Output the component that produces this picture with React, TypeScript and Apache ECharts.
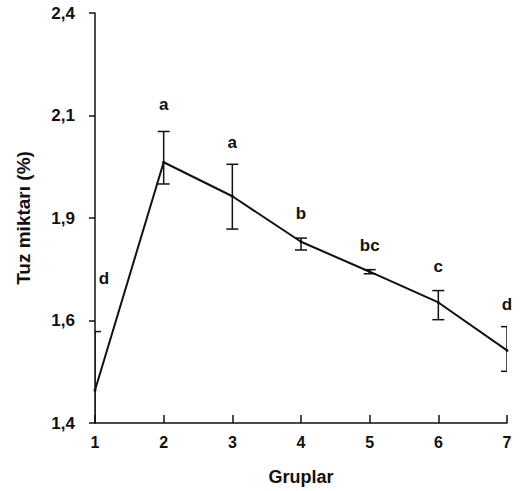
import React, { useEffect, useRef } from "react";
import * as echarts from "echarts";

const groups = [1, 2, 3, 4, 5, 6, 7];
const means = [1.48, 2.036, 1.953, 1.842, 1.769, 1.694, 1.577];
const upper = [1.623, 2.111, 2.031, 1.851, 1.774, 1.723, 1.635];
const lower = [1.337, 1.983, 1.873, 1.822, 1.764, 1.652, 1.526];
const letters = ["d", "a", "a", "b", "bc", "c", "d"];
const letterY = [1.752, 2.177, 2.084, 1.91, 1.832, 1.781, 1.689];
const yTickLabels = ["1,4", "1,6", "1,9", "2,1", "2,4"];
const xTickLabels = ["1", "2", "3", "4", "5", "6", "7"];

const FONT = "'Liberation Sans', Arial, sans-serif";

export default function App() {
  const ref = useRef<HTMLDivElement>(null);
  useEffect(() => {
    if (!ref.current) return;
    const chart = echarts.init(ref.current, null, { renderer: "svg" });
    const textStyle = { fontFamily: FONT, fontWeight: "bold" as const, fontSize: 17, color: "#111" };
    chart.setOption({
      animation: false,
      backgroundColor: "#fff",
      grid: { left: 95, right: 19, top: 13, bottom: 66, containLabel: false },
      xAxis: {
        type: "value",
        min: 1,
        max: 7,
        interval: 1,
        name: "Gruplar",
        nameLocation: "middle",
        nameGap: 45,
        nameTextStyle: { ...textStyle, fontSize: 18 },
        axisLine: { show: true, lineStyle: { color: "#111", width: 1.5 } },
        axisTick: { show: true, inside: true, length: 8, lineStyle: { color: "#111", width: 1.5 } },
        axisLabel: {
          ...textStyle,
          fontSize: 16,
          margin: 11,
          formatter: (_v: number, i: number) => xTickLabels[i] ?? "",
        },
        splitLine: { show: false },
      },
      yAxis: {
        type: "value",
        min: 1.4,
        max: 2.4,
        interval: 0.25,
        name: "Tuz miktarı (%)",
        nameLocation: "middle",
        nameGap: 62,
        nameTextStyle: { ...textStyle, fontSize: 19 },
        axisLine: { show: true, lineStyle: { color: "#111", width: 1.5 } },
        axisTick: { show: true, inside: false, length: 6, lineStyle: { color: "#111", width: 1.5 } },
        axisLabel: {
          ...textStyle,
          margin: 20,
          formatter: (_v: number, i: number) => yTickLabels[i] ?? "",
        },
        splitLine: { show: false },
      },
      series: [
        {
          type: "line",
          data: groups.map((g, i) => [g, means[i]]),
          symbol: "circle",
          symbolSize: 3,
          itemStyle: { color: "#111" },
          lineStyle: { color: "#111", width: 2 },
          z: 3,
        },
        {
          type: "custom",
          clip: true,
          data: groups.map((g, i) => [g, lower[i], upper[i]]),
          renderItem: (params: any, api: any) => {
            const x = api.value(0);
            const lo = api.coord([x, api.value(1)]);
            const hi = api.coord([x, api.value(2)]);
            const hw = 6;
            const style = { stroke: "#111", lineWidth: 1.5 };
            return {
              type: "group",
              children: [
                { type: "line", shape: { x1: lo[0], y1: lo[1], x2: hi[0], y2: hi[1] }, style },
                { type: "line", shape: { x1: hi[0] - hw, y1: hi[1], x2: hi[0] + hw, y2: hi[1] }, style },
                { type: "line", shape: { x1: lo[0] - hw, y1: lo[1], x2: lo[0] + hw, y2: lo[1] }, style },
              ],
            };
          },
          z: 4,
        },
        {
          type: "scatter",
          symbolSize: 0,
          itemStyle: { opacity: 1, color: "#111" },
          data: groups.map((g, i) => ({
            value: [g, letterY[i]],
            label: i === 0 ? { offset: [9, 0] } : undefined,
          })),
          label: {
            show: true,
            position: "inside",
            ...textStyle,
            color: "#111",
            opacity: 1,
            formatter: (p: any) => letters[p.dataIndex],
          },
          silent: true,
          z: 5,
        },
      ],
    });
    return () => chart.dispose();
  }, []);
  return (
    <div
      ref={ref}
      style={{ position: "absolute", left: 0, top: 0, width: 526, height: 491 }}
    />
  );
}
